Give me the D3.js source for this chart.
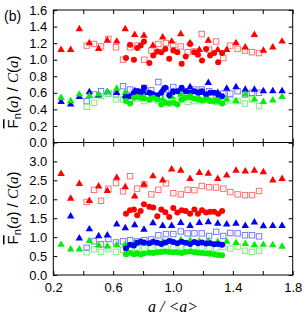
<!DOCTYPE html>
<html>
<meta charset="utf-8">
<script src="https://d3js.org/d3.v7.min.js"></script>
<style>
  body { margin: 0; background: #fff; }
  text { font-family: "Liberation Sans", Arial, sans-serif; }
  .it { font-family: "Liberation Serif", "Times New Roman", serif; font-style: italic; }
</style>
<body>
<div id="chart"></div>
<script>
// bin centres a/<a>, shared by both panels
var triX = [0.252,0.316,0.374,0.441,0.503,0.561,0.624,0.681,0.744,0.806,0.866,0.931,0.991,1.052,1.114,1.176,1.236,1.299,1.359,1.421,1.483,1.544,1.604,1.667,1.729];
var sqX = [0.423,0.472,0.519,0.568,0.619,0.666,0.713,0.760,0.808,0.855,0.902,0.953,1.002,1.052,1.098,1.143,1.192,1.241,1.288,1.336,1.383,1.432,1.481,1.528,1.575];
var circX = [0.686,0.713,0.739,0.761,0.784,0.806,0.842,0.868,0.895,0.922,0.949,0.975,1.002,1.029,1.058,1.085,1.114,1.143,1.167,1.194,1.221,1.248,1.275,1.302,1.328];

// upper panel
var redTriTop = [1.12,1.12,1.37,1.20,1.13,1.23,1.22,1.37,1.30,1.29,1.17,1.27,1.22,1.31,1.20,1.12,1.23,1.12,1.12,1.20,1.15,1.30,1.11,1.15,1.22];
var redSqTop = [1.17,1.19,1.16,1.25,1.15,1.00,1.15,1.17,1.00,1.11,1.19,1.20,1.18,1.16,1.09,1.10,1.31,1.12,1.22,1.02,1.17,1.13,1.11,1.09,1.08];
var redCircTop = [1.02,1.18,1.00,1.14,1.17,1.22,0.96,1.05,1.10,1.09,1.13,1.01,1.11,1.09,0.95,1.04,1.19,1.09,1.06,0.99,1.13,1.05,1.08,0.97,1.08];
var blueTriTop = [0.49,0.46,0.55,0.61,0.57,0.61,0.60,0.56,0.62,0.60,0.58,0.64,0.60,0.64,0.67,0.60,0.72,0.60,0.65,0.67,0.64,0.64,0.62,0.62,0.62];
var blueSqTop = [0.50,0.58,0.62,0.59,0.58,0.68,0.64,0.62,0.66,0.63,0.73,0.64,0.67,0.62,0.60,0.64,0.64,0.62,0.58,0.59,0.59,0.62,0.58,0.60,0.60];
var blueCircTop = [0.55,0.56,0.60,0.62,0.61,0.66,0.60,0.58,0.57,0.60,0.66,0.57,0.62,0.62,0.66,0.62,0.60,0.62,0.60,0.62,0.58,0.60,0.60,0.58,0.56];
var greenTriTop = [0.54,0.50,0.58,0.56,0.58,0.61,0.65,0.60,0.58,0.55,0.56,0.52,0.55,0.58,0.54,0.53,0.52,0.53,0.52,0.50,0.58,0.52,0.49,0.51,0.55];
var greenSqTop = [0.43,0.48,0.56,0.59,0.52,0.52,0.52,0.53,0.50,0.52,0.50,0.53,0.51,0.52,0.49,0.50,0.50,0.51,0.49,0.49,0.51,0.50,0.47,0.52,0.44];
var greenCircTop = [0.50,0.47,0.54,0.55,0.54,0.53,0.52,0.54,0.52,0.46,0.48,0.47,0.48,0.46,0.52,0.54,0.56,0.53,0.52,0.51,0.52,0.50,0.50,0.50,0.47];

// lower panel
var redTriBot = [2.67,2.02,2.41,1.96,2.34,2.22,2.57,2.32,2.08,2.39,2.61,2.50,2.79,2.76,2.54,2.70,2.68,2.54,2.63,2.76,2.74,2.76,2.72,2.50,2.54];
var redSqBot = [1.93,2.25,1.96,2.28,2.43,2.21,2.61,2.28,2.39,2.13,2.25,2.42,2.16,2.13,2.25,2.24,2.35,2.32,2.31,2.28,2.19,2.13,2.11,2.11,2.22];
var redCircBot = [1.62,1.71,1.73,1.58,1.69,1.87,1.80,1.78,1.55,1.73,1.66,1.53,1.77,1.65,1.71,1.69,1.62,1.73,1.62,1.71,1.65,1.67,1.67,1.62,1.69];
var blueTriBot = [null,1.55,0.97,1.21,1.03,1.05,1.34,1.24,1.32,1.20,1.37,1.30,1.30,1.38,1.30,1.38,1.40,1.36,1.34,1.36,1.30,1.39,1.29,1.30,1.30];
var blueSqBot = [0.72,0.89,0.81,0.95,0.86,0.89,0.92,0.89,0.92,0.94,1.05,1.08,1.08,1.15,1.10,1.10,1.10,1.03,1.14,1.03,1.11,1.10,1.05,1.05,1.02];
var blueCircBot = [0.70,0.80,0.78,0.85,0.88,0.86,0.84,0.88,0.85,0.82,0.86,0.90,0.87,0.84,0.88,0.85,0.82,0.87,0.84,0.86,0.83,0.84,0.81,0.82,0.80];
var greenTriBot = [0.80,0.68,0.68,0.90,0.78,0.76,0.79,0.80,0.86,0.83,0.86,0.88,0.88,0.92,0.91,0.89,0.90,0.88,0.88,0.85,0.82,0.79,0.80,0.79,0.75];
var greenSqBot = [0.60,0.68,0.61,0.68,0.61,0.66,0.70,0.72,0.70,0.72,0.74,0.72,0.73,0.75,0.72,0.74,0.73,0.72,0.71,0.74,0.70,0.75,0.64,0.61,0.64];
var greenCircBot = [0.55,0.59,0.55,0.57,0.54,0.57,0.59,0.58,0.60,0.61,0.62,0.61,0.60,0.60,0.58,0.61,0.62,0.60,0.59,0.58,0.57,0.56,0.55,0.53,0.52];

var xTicks = [0.2,0.4,0.6,0.8,1.0,1.2,1.4,1.6,1.8];
var xLabels = [0.2,0.6,1.0,1.4,1.8];
var yTicksTop = [0,0.2,0.4,0.6,0.8,1.0,1.2,1.4,1.6];
var yTicksBot = [0,0.5,1.0,1.5,2.0,2.5,3.0,3.5];

var W = 306, H = 315;
var left = 53.3, right = 292.7;
var col = {red: "#ff0000", blue: "#0000ff", green: "#00f000"};
var light = {red: "#ff7070", blue: "#7878ff", green: "#78f078"};

var svg = d3.select("#chart").append("svg")
  .attr("width", W).attr("height", H);

var x = d3.scaleLinear().domain([0.2, 1.8]).range([left, right]);

function zip(xs, ys) {
  var out = [];
  xs.forEach(function(v, i) { if (ys[i] != null) out.push([v, ys[i]]); });
  return out;
}

function panel(top, bottom, yMax, yTicks, series, showX) {
  var y = d3.scaleLinear().domain([0, yMax]).range([bottom, top]);
  var g = svg.append("g");

  // left axis, labelled up to 3.0 in the lower panel
  var labelled = yTicks.filter(function(d) { return yMax == 1.6 || d < yMax; });
  g.append("g")
    .attr("transform", "translate(" + left + ",0)")
    .call(d3.axisLeft(y).tickValues(labelled)
      .tickSize(-4).tickPadding(6).tickFormat(d3.format(".1f")));
  g.append("g")
    .attr("transform", "translate(" + right + ",0)")
    .call(d3.axisRight(y).tickValues(yTicks).tickSize(-4).tickFormat(""));
  g.append("g")
    .attr("transform", "translate(0," + top + ")")
    .call(d3.axisTop(x).tickValues(xTicks).tickSize(-4).tickFormat(""));
  g.append("g")
    .attr("transform", "translate(0," + bottom + ")")
    .call(d3.axisBottom(x).tickValues(xTicks).tickSize(-4).tickPadding(8)
      .tickFormat(function(d) {
        return showX && xLabels.some(function(l) { return Math.abs(l - d) < 1e-9; }) ? d3.format(".1f")(d) : "";
      }));
  g.selectAll(".domain").remove();
  g.selectAll(".tick line").attr("stroke", "#000");
  g.selectAll(".tick text").attr("font-size", 13).attr("fill", "#000")
    .attr("font-family", "Liberation Sans, Arial, sans-serif");

  var plot = g.append("g");
  // open squares
  series.forEach(function(s) {
    var pts = zip(sqX, s.sq);
    plot.selectAll(null).data(pts).enter().append("rect")
      .attr("x", function(d) { return x(d[0]) - 2.7; })
      .attr("y", function(d) { return y(d[1]) - 2.7; })
      .attr("width", 5.4).attr("height", 5.4)
      .attr("fill", "none").attr("stroke", light[s.c]).attr("stroke-width", 1);
    plot.selectAll(null).data(pts).enter().append("rect")
      .attr("x", function(d) { return x(d[0]) - 0.5; })
      .attr("y", function(d) { return y(d[1]) - 0.5; })
      .attr("width", 1).attr("height", 1)
      .attr("fill", light[s.c]).attr("opacity", 0.6);
  });
  // filled triangles
  var tri = d3.symbol().type(d3.symbolTriangle).size(24);
  series.forEach(function(s) {
    plot.selectAll(null).data(zip(triX, s.tri)).enter().append("path")
      .attr("d", tri)
      .attr("transform", function(d) { return "translate(" + x(d[0]) + "," + y(d[1]) + ")"; })
      .attr("fill", col[s.c]);
  });
  // filled circles
  series.forEach(function(s) {
    plot.selectAll(null).data(zip(circX, s.circ)).enter().append("circle")
      .attr("cx", function(d) { return x(d[0]); })
      .attr("cy", function(d) { return y(d[1]); })
      .attr("r", 3)
      .attr("fill", col[s.c]);
  });

  g.append("rect")
    .attr("x", left).attr("y", top)
    .attr("width", right - left).attr("height", bottom - top)
    .attr("fill", "none").attr("stroke", "#000").attr("stroke-width", 1);
}

panel(10, 142.5, 1.6, yTicksTop, [
  {c: "red", tri: redTriTop, sq: redSqTop, circ: redCircTop},
  {c: "blue", tri: blueTriTop, sq: blueSqTop, circ: blueCircTop},
  {c: "green", tri: greenTriTop, sq: greenSqTop, circ: greenCircTop}
], false);

panel(142.5, 275, 3.5, yTicksBot, [
  {c: "red", tri: redTriBot, sq: redSqBot, circ: redCircBot},
  {c: "blue", tri: blueTriBot, sq: blueSqBot, circ: blueCircBot},
  {c: "green", tri: greenTriBot, sq: greenSqBot, circ: greenCircBot}
], true);

// y titles
function yTitle(cy) {
  var t = svg.append("text")
    .attr("transform", "translate(18," + cy + ") rotate(-90)")
    .attr("text-anchor", "middle")
    .attr("font-size", 15);
  t.append("tspan").style("text-decoration", "overline").text("F");
  t.append("tspan").attr("dy", 3).attr("font-size", 11).text("n");
  t.append("tspan").attr("dy", -3).text("(");
  t.append("tspan").attr("class", "it").text("a");
  t.append("tspan").text(") / ");
  t.append("tspan").attr("class", "it").text("C");
  t.append("tspan").text("(");
  t.append("tspan").attr("class", "it").text("a");
  t.append("tspan").text(")");
}
yTitle(92);
yTitle(208);

// x title
var xt = svg.append("text")
  .attr("x", (left + right) / 2).attr("y", 312)
  .attr("text-anchor", "middle").attr("font-size", 16);
xt.append("tspan").attr("class", "it").text("a");
xt.append("tspan").attr("class", "it").text(" / <");
xt.append("tspan").attr("class", "it").text("a");
xt.append("tspan").attr("class", "it").text(">");

svg.append("text").attr("x", 4).attr("y", 21).attr("font-size", 14).text("(b)");
</script>
</body>
</html>
